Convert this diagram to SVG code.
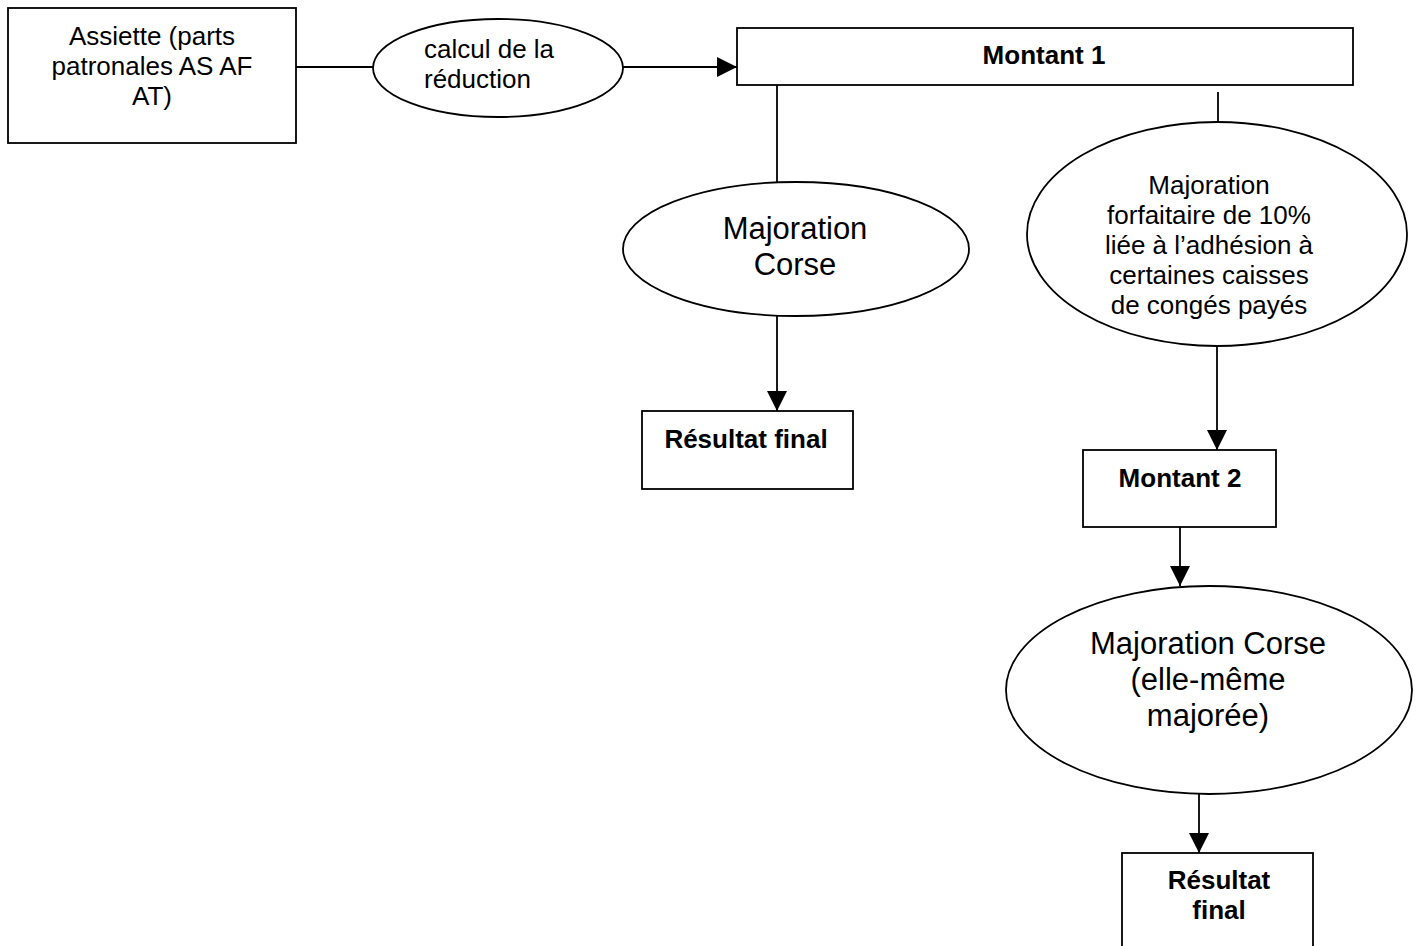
<svg xmlns="http://www.w3.org/2000/svg" width="1420" height="946" viewBox="0 0 1420 946">
<style>
.s{fill:#fff;stroke:#000;stroke-width:1.8}
.c{fill:none;stroke:#000;stroke-width:1.8}
.t{font-family:"Liberation Sans",Arial,sans-serif;font-size:26px;fill:#000}
.b{font-weight:bold}
.L{font-size:31px}
.m{text-anchor:middle}
</style>
<defs>
<marker id="ah" viewBox="0 0 20 20" refX="20" refY="10" markerWidth="20" markerHeight="20" markerUnits="userSpaceOnUse" orient="auto">
<path d="M0,0 L20,10 L0,20 Z" fill="#000"/>
</marker>
</defs>
<rect width="1420" height="946" fill="#fff"/>
<g id="connectors">
<line class="c" x1="296" y1="67" x2="373" y2="67"/>
<line class="c" x1="622" y1="67" x2="737" y2="67" marker-end="url(#ah)"/>
<line class="c" x1="777" y1="85" x2="777" y2="182"/>
<line class="c" x1="777" y1="316" x2="777" y2="411" marker-end="url(#ah)"/>
<line class="c" x1="1218" y1="92" x2="1218" y2="128"/>
<line class="c" x1="1217" y1="345" x2="1217" y2="450" marker-end="url(#ah)"/>
<line class="c" x1="1180" y1="527" x2="1180" y2="586" marker-end="url(#ah)"/>
<line class="c" x1="1199" y1="794" x2="1199" y2="853" marker-end="url(#ah)"/>
</g>
<g id="assiette">
<rect class="s" x="8" y="8" width="288" height="135"/>
<text class="t m" x="152" y="45">Assiette (parts</text>
<text class="t m" x="152" y="75">patronales AS AF</text>
<text class="t m" x="152" y="105">AT)</text>
</g>
<g id="calcul">
<ellipse class="s" cx="498" cy="68" rx="125" ry="49"/>
<text class="t" x="424" y="58">calcul de la</text>
<text class="t" x="424" y="88">réduction</text>
</g>
<g id="montant1">
<rect class="s" x="737" y="28" width="616" height="57"/>
<text class="t b m" x="1044" y="64">Montant 1</text>
</g>
<g id="majoration-corse">
<ellipse class="s" cx="796" cy="249" rx="173" ry="67"/>
<text class="t L m" x="795" y="239">Majoration</text>
<text class="t L m" x="795" y="275">Corse</text>
</g>
<g id="resultat1">
<rect class="s" x="642" y="411" width="211" height="78"/>
<text class="t b m" x="746" y="448">Résultat final</text>
</g>
<g id="majoration-forfaitaire">
<ellipse class="s" cx="1217" cy="234" rx="190" ry="112"/>
<text class="t m" x="1209" y="194">Majoration</text>
<text class="t m" x="1209" y="224">forfaitaire de 10%</text>
<text class="t m" x="1209" y="254">liée à l’adhésion à</text>
<text class="t m" x="1209" y="284">certaines caisses</text>
<text class="t m" x="1209" y="314">de congés payés</text>
</g>
<g id="montant2">
<rect class="s" x="1083" y="450" width="193" height="77"/>
<text class="t b m" x="1180" y="487">Montant 2</text>
</g>
<g id="majoration-corse-2">
<ellipse class="s" cx="1209" cy="690" rx="203" ry="104"/>
<text class="t L m" x="1208" y="654">Majoration Corse</text>
<text class="t L m" x="1208" y="690">(elle-même</text>
<text class="t L m" x="1208" y="726">majorée)</text>
</g>
<g id="resultat2">
<rect class="s" x="1122" y="853" width="191" height="100"/>
<text class="t b m" x="1219" y="889">Résultat</text>
<text class="t b m" x="1219" y="919">final</text>
</g>
</svg>
